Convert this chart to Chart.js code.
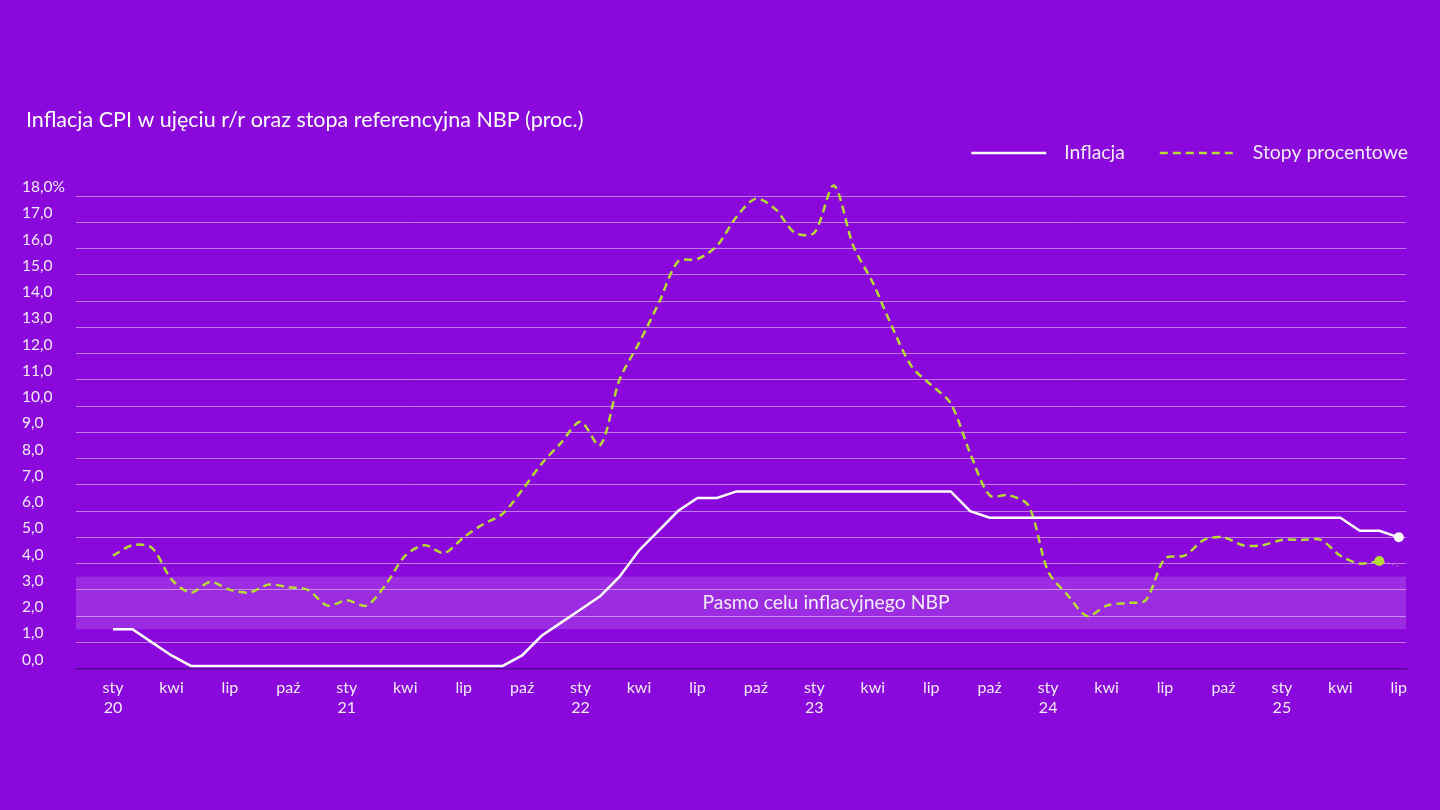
<!DOCTYPE html>
<html lang="pl">
<head>
    <meta charset="UTF-8">
    <title>Inflacja CPI i stopa referencyjna NBP</title>
    <script src="https://cdn.jsdelivr.net/npm/chart.js"></script>
    <style>
        html, body { margin: 0; padding: 0; background: #8a08dc; }
        .wrap { width: 1440px; height: 810px; position: relative; }
    </style>
</head>
<body>
<div class="wrap"><canvas id="chart"></canvas></div>
<script>
    const chartTitle = 'Inflacja CPI w ujęciu r/r oraz stopa referencyjna NBP (proc.)';
    const bandLabel = 'Pasmo celu inflacyjnego NBP';

    // months: sty 20 .. lip 25
    const monthNames = ['sty','lut','mar','kwi','maj','cze','lip','sie','wrz','paź','lis','gru'];
    const years = ['20','21','22','23','24','25'];
    const months = [];
    years.forEach(y => monthNames.forEach(m => months.push([m, y])));
    months.length = 67;

    // white solid line (legend: "Inflacja")
    const inflacja = [
        1.5, 1.5, 1.0, 0.5, 0.1, 0.1, 0.1, 0.1, 0.1, 0.1, 0.1, 0.1,
        0.1, 0.1, 0.1, 0.1, 0.1, 0.1, 0.1, 0.1, 0.1, 0.5, 1.25, 1.75,
        2.25, 2.75, 3.5, 4.5, 5.25, 6.0, 6.5, 6.5, 6.75, 6.75, 6.75, 6.75,
        6.75, 6.75, 6.75, 6.75, 6.75, 6.75, 6.75, 6.75, 6.0, 5.75, 5.75, 5.75,
        5.75, 5.75, 5.75, 5.75, 5.75, 5.75, 5.75, 5.75, 5.75, 5.75, 5.75, 5.75,
        5.75, 5.75, 5.75, 5.75, 5.25, 5.25, 5.0
    ];
    // green dashed line (legend: "Stopy procentowe")
    const stopy = [
        4.3, 4.7, 4.6, 3.4, 2.9, 3.3, 3.0, 2.9, 3.2, 3.1, 3.0, 2.4,
        2.6, 2.4, 3.2, 4.3, 4.7, 4.4, 5.0, 5.5, 5.9, 6.8, 7.8, 8.6,
        9.4, 8.5, 11.0, 12.4, 13.9, 15.5, 15.6, 16.1, 17.2, 17.9, 17.5, 16.6,
        16.6, 18.4, 16.1, 14.7, 13.0, 11.5, 10.8, 10.1, 8.2, 6.6, 6.6, 6.2,
        3.7, 2.8, 2.0, 2.4, 2.5, 2.6, 4.2, 4.3, 4.9, 5.0, 4.7, 4.7,
        4.9, 4.9, 4.9, 4.3, 4.0, 4.1, null
    ];
    // faint dotted continuation of the green line (jun 25 -> lip 25)
    const stopyTail = [null, null, 4.1, 3.9];
    const tailStart = 63;

    const bandRange = [1.5, 3.5];
    const yTicks = [0,1,2,3,4,5,6,7,8,9,10,11,12,13,14,15,16,17,18];
    const xTicks = [0,3,6,9,12,15,18,21,24,27,30,33,36,39,42,45,48,51,54,57,60,63,66];

    const green = '#b6dc34';
    const gridColor = 'rgba(255,255,255,0.45)';

    const toPoints = arr => arr.map((v, i) => ({ x: i, y: v }));

    // target band + its label
    const bandPlugin = {
        id: 'band',
        beforeDatasetsDraw(chart) {
            const { ctx, chartArea, scales } = chart;
            const yTop = scales.y.getPixelForValue(bandRange[1]);
            const yBot = scales.y.getPixelForValue(bandRange[0]);
            ctx.save();
            ctx.fillStyle = 'rgba(255,255,255,0.15)';
            ctx.fillRect(chartArea.left, yTop, chartArea.right - chartArea.left, yBot - yTop);
            ctx.font = '19.4px Lato';
            ctx.fillStyle = '#f4ecff';
            ctx.textAlign = 'center';
            ctx.textBaseline = 'middle';
            ctx.fillText(bandLabel, scales.x.getPixelForValue(36.6), scales.y.getPixelForValue(2.5));
            ctx.restore();
        }
    };

    // title + legend drawn on top
    const headerPlugin = {
        id: 'header',
        afterDraw(chart) {
            const ctx = chart.ctx;
            ctx.save();
            ctx.fillStyle = '#ffffff';
            ctx.textBaseline = 'middle';
            ctx.font = '21.5px Lato';
            ctx.fillText(chartTitle, 26, 120);

            ctx.font = '19.4px Lato';
            let x = 1408;
            const y = 153;
            chart.data.datasets.filter(d => !d.hideLegend).slice().reverse().forEach(ds => {
                const w = ctx.measureText(ds.label).width;
                x -= w;
                ctx.fillStyle = '#f4ecff';
                ctx.fillText(ds.label, x, y);
                x -= 18;
                ctx.beginPath();
                ctx.strokeStyle = ds.borderColor;
                ctx.lineWidth = ds.borderWidth;
                ctx.setLineDash(ds.borderDash || []);
                ctx.moveTo(x - 75, y);
                ctx.lineTo(x, y);
                ctx.stroke();
                ctx.setLineDash([]);
                x -= 75 + 35;
            });
            ctx.restore();
        }
    };

    Chart.defaults.font.family = 'Lato';
    Chart.defaults.color = '#f4ecff';

    new Chart(document.getElementById('chart'), {
        type: 'line',
        data: {
            datasets: [
                {
                    label: 'Inflacja',
                    data: toPoints(inflacja),
                    borderColor: '#ffffff',
                    borderWidth: 2.5,
                    tension: 0,
                    pointRadius: inflacja.map((v, i) => i === inflacja.length - 1 ? 5 : 0),
                    pointBackgroundColor: '#ffffff',
                    pointBorderWidth: 0
                },
                {
                    label: 'Stopy procentowe',
                    data: toPoints(stopy),
                    borderColor: green,
                    borderWidth: 2.5,
                    borderDash: [8, 5],
                    tension: 0.3,
                    pointRadius: stopy.map((v, i) => i === 65 ? 5 : 0),
                    pointBackgroundColor: green,
                    pointBorderWidth: 0
                },
                {
                    label: 'tail',
                    hideLegend: true,
                    data: stopyTail.map((v, i) => ({ x: tailStart + i, y: v })),
                    borderColor: 'rgba(210,230,140,0.6)',
                    borderWidth: 1.2,
                    borderDash: [1.5, 3],
                    pointRadius: 0
                }
            ]
        },
        options: {
            responsive: true,
            maintainAspectRatio: false,
            animation: false,
            clip: false,
            layout: { padding: { top: 196, left: 22, right: 34, bottom: 91 } },
            plugins: {
                legend: { display: false },
                title: { display: false },
                tooltip: { enabled: false }
            },
            scales: {
                x: {
                    type: 'linear',
                    min: -1.9,
                    max: 66.37,
                    afterBuildTicks: scale => { scale.ticks = xTicks.map(v => ({ value: v })); },
                    grid: { display: false },
                    border: { display: true, color: '#560a94', width: 1.5 },
                    ticks: {
                        autoSkip: false,
                        maxRotation: 0,
                        padding: 2,
                        font: { size: 16 },
                        callback: v => {
                            const m = months[v];
                            return m[0] === 'sty' ? m : m[0];
                        }
                    }
                },
                y: {
                    min: 0,
                    max: 18,
                    afterBuildTicks: scale => { scale.ticks = yTicks.map(v => ({ value: v })); },
                    afterFit: scale => { scale.width = 54; },
                    grid: {
                        drawTicks: false,
                        color: c => c.tick.value === 0 ? 'rgba(0,0,0,0)' : gridColor
                    },
                    border: { display: false },
                    ticks: {
                        crossAlign: 'far',
                        labelOffset: -9,
                        font: { size: 15.5 },
                        color: '#f4ecff',
                        callback: v => v.toFixed(1).replace('.', ',') + (v === 18 ? '%' : '')
                    }
                }
            }
        },
        plugins: [bandPlugin, headerPlugin]
    });
</script>
</body>
</html>
